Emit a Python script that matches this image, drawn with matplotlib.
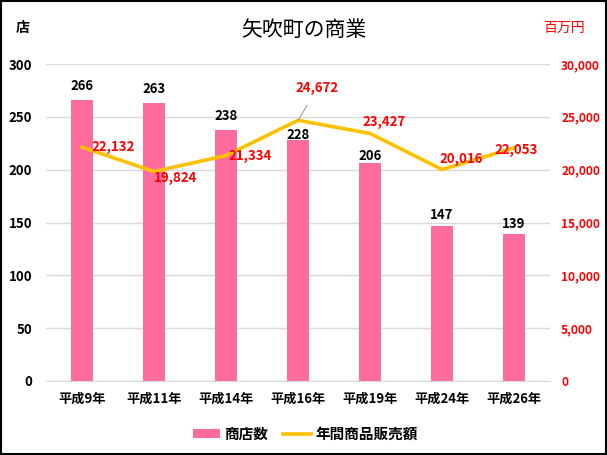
import matplotlib.pyplot as plt
from matplotlib.patches import Rectangle

plt.rcParams['font.family'] = ['Noto Sans CJK JP', 'DejaVu Sans']

# data
years = ['平成9年', '平成11年', '平成14年', '平成16年', '平成19年', '平成24年', '平成26年']
shops = [266, 263, 238, 228, 206, 147, 139]
sales = [22132, 19824, 21334, 24672, 23427, 20016, 22053]

BAR_COLOR = '#FF6C9C'
LINE_COLOR = '#FFC000'

fig = plt.figure(figsize=(6.07, 4.55), dpi=100)
W, H = 607, 455
ax = fig.add_axes([46 / W, (H - 381) / H, 504 / W, 317 / H])
ax2 = ax.twinx()

x = list(range(len(years)))
ax.bar(x, shops, width=0.31, color=BAR_COLOR, zorder=2, label='商店数')
ax2.plot(x, sales, color=LINE_COLOR, lw=2.6, zorder=3, label='年間商品販売額')

ax.set_xlim(-0.5, len(years) - 0.5)
ax.set_ylim(0, 300)
ax2.set_ylim(0, 30000)
ax.set_yticks(range(0, 301, 50))
ax2.set_yticks(range(0, 30001, 5000))
ax2.set_yticklabels([f'{v:,}' for v in range(0, 30001, 5000)])
ax.set_xticks(x)
ax.set_xticklabels(years, fontsize=9, fontweight='bold')
ax.grid(axis='y', color='#D9D9D9', lw=1, zorder=0)
ax.set_axisbelow(True)

for a in (ax, ax2):
    for s in a.spines.values():
        s.set_visible(False)
ax.spines['bottom'].set_visible(True)
ax.spines['bottom'].set_color('#D9D9D9')
ax.tick_params(axis='both', length=0, labelsize=9.5)
ax.tick_params(axis='y', pad=10)
ax.tick_params(axis='x', pad=8)
ax2.tick_params(axis='y', length=0, labelsize=8.6, colors='#FF0000', pad=8)
for t in ax.get_yticklabels():
    t.set_fontweight('bold')
for t in ax2.get_yticklabels():
    t.set_fontweight('bold')

# bar labels (vertical offset in points from bar top to label centre)
bar_dy = [10, 10, 10, 4, 5, 7.5, 7]
for xi, v, dy in zip(x, shops, bar_dy):
    ax.annotate(str(v), (xi, v), xytext=(0, dy), textcoords='offset points',
                ha='center', va='center', fontsize=9.5, fontweight='bold', zorder=5)

# line labels (offsets in points)
offsets = [(7, 0, 'left'), (0, -5, 'left'), (2, 0, 'left'),
           (14, 23, 'center'), (10, 8, 'center'), (14, 7.5, 'center'),
           (1.5, -1.5, 'center')]
for xi, v, (dx, dy, ha) in zip(x, sales, offsets):
    kw = {}
    if xi == 3:
        kw['arrowprops'] = dict(arrowstyle='-', color='#A0A0A0', lw=0.8,
                                shrinkA=6, shrinkB=0)
    ax2.annotate(f'{v:,}', (xi, v), xytext=(dx, dy), textcoords='offset points',
                 ha=ha, va='center', fontsize=9.5, fontweight='bold', color='#FF0000',
                 zorder=6, **kw)

fig.text(304 / W, 1 - 30 / H, '矢吹町の商業', ha='center', va='center', fontsize=15)
fig.text(23 / W, 1 - 28 / H, '店', ha='center', va='center', fontsize=10, fontweight='bold')
fig.text(564 / W, 1 - 28 / H, '百万円', ha='center', va='center', fontsize=10,
         color='#FF0000')

h1, l1 = ax.get_legend_handles_labels()
h2, l2 = ax2.get_legend_handles_labels()
leg = fig.legend(h1 + h2, l1 + l2, loc='center', bbox_to_anchor=(305 / W, 1 - 434 / H),
                 ncol=2, frameon=False, fontsize=10.5, handlelength=1.9, handleheight=0.6,
                 columnspacing=1.0, handletextpad=0.3)
for t in leg.get_texts():
    t.set_fontweight('bold')

fig.patches.append(Rectangle((0.0015, 0.002), 0.997, 0.996, transform=fig.transFigure,
                             fill=False, edgecolor='black', lw=1.5))

fig.savefig('out.png', dpi=100)
